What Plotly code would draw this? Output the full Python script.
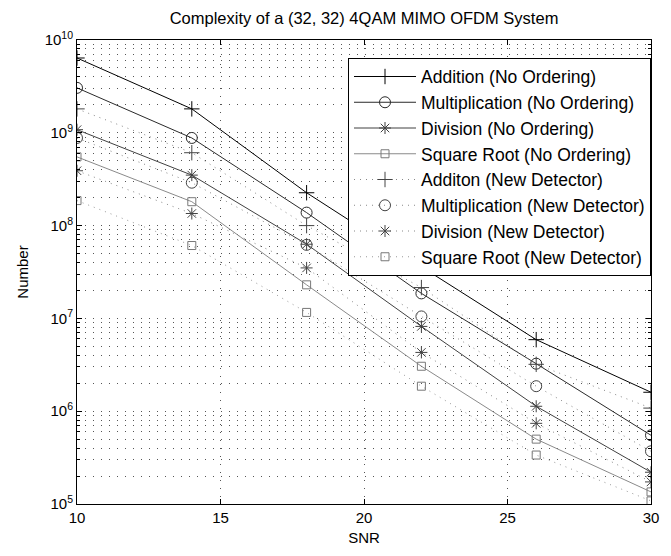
import plotly.graph_objects as go

snr = [10, 14, 18, 22, 26, 30]

add_no = [6.4e9, 1.81e9, 2.26e8, 3.6e7, 5.9e6, 1.6e6]
mul_no = [3.05e9, 8.8e8, 1.38e8, 1.86e7, 3.25e6, 5.5e5]
div_no = [1.08e9, 3.5e8, 6.3e7, 8.2e6, 1.13e6, 2.2e5]
sqr_no = [5.5e8, 1.81e8, 2.3e7, 3.05e6, 5.0e5, 1.35e5]

add_new = [1.81e9, 6.1e8, 1.0e8, 2.15e7, 3.2e6, 1.08e6]
mul_new = [8.8e8, 2.9e8, 6.2e7, 1.05e7, 1.86e6, 3.7e5]
div_new = [3.9e8, 1.35e8, 3.5e7, 4.3e6, 7.4e5, 1.73e5]
sqr_new = [1.86e8, 6.1e7, 1.16e7, 1.86e6, 3.37e5, 1.08e5]

names = [
    "Addition (No Ordering)",
    "Multiplication (No Ordering)",
    "Division (No Ordering)",
    "Square Root (No Ordering)",
    "Additon (New Detector)",
    "Multiplication (New Detector)",
    "Division (New Detector)",
    "Square Root (New Detector)",
]

series = [add_no, mul_no, div_no, sqr_no, add_new, mul_new, div_new, sqr_new]
symbols = ["cross-thin-open", "circle-open", "asterisk-open", "square-open"] * 2
sizes = [11, 11, 10, 8] * 2
line_colors = ["#000000", "#2a2a2a", "#404040", "#8a8a8a",
               "#888888", "#888888", "#888888", "#999999"]
marker_colors = ["#000000", "#2a2a2a", "#404040", "#7a7a7a",
                 "#444444", "#444444", "#444444", "#777777"]
dashes = ["solid"] * 4 + ["1px,5px"] * 4

fig = go.Figure()
for i in range(8):
    fig.add_trace(go.Scatter(
        x=snr, y=series[i], name=names[i], mode="lines+markers",
        line=dict(color=line_colors[i], width=1, dash=dashes[i]),
        marker=dict(symbol=symbols[i], size=sizes[i], color=marker_colors[i],
                    line=dict(width=1, color=marker_colors[i])),
    ))

major = [10 ** k for k in range(5, 11)]
major_text = ["10<sup>%d</sup>" % k for k in range(5, 11)]
minor_vals = [m * 10 ** k for k in range(5, 10) for m in range(2, 10)]

grid_dash = "1px,7px"
fig.update_layout(
    width=671, height=556,
    margin=dict(l=77, r=13, t=40, b=51),
    paper_bgcolor="white", plot_bgcolor="white",
    font=dict(family="Liberation Sans, Arial, sans-serif", color="black", size=15),
    title=dict(text="Complexity of a (32, 32) 4QAM MIMO OFDM System",
               x=0.5, xref="paper", xanchor="center", y=0.968, yanchor="middle",
               font=dict(size=16.5)),
    showlegend=True,
    legend=dict(x=1, xanchor="right", y=0.962, yanchor="top",
                bgcolor="white", bordercolor="black", borderwidth=1,
                font=dict(size=17.5), itemwidth=62, tracegroupgap=0),
    xaxis=dict(range=[10, 30], tickvals=[10, 15, 20, 25, 30],
               ticks="inside", ticklen=5, tickcolor="black",
               showline=True, linecolor="black", linewidth=1, mirror="allticks",
               showgrid=True, gridcolor="#555555", gridwidth=1, griddash=grid_dash,
               zeroline=False,
               title=dict(text="SNR", standoff=7, font=dict(size=15)),
               tickfont=dict(size=15)),
    yaxis=dict(type="log", range=[5, 10], tickvals=major, ticktext=major_text,
               ticks="inside", ticklen=5, tickcolor="black",
               showline=True, linecolor="black", linewidth=1, mirror="allticks",
               showgrid=True, gridcolor="#555555", gridwidth=1, griddash=grid_dash,
               zeroline=False,
               minor=dict(tickvals=minor_vals, ticks="inside", ticklen=3,
                          tickcolor="black", showgrid=True, gridcolor="#555555",
                          gridwidth=1, griddash=grid_dash),
               title=dict(text="Number", standoff=12, font=dict(size=15)),
               tickfont=dict(size=15)),
)

fig.write_html("out.html",
               config={"displayModeBar": False},
               post_script="document.body.style.margin='0';document.body.style.overflow='hidden';")
